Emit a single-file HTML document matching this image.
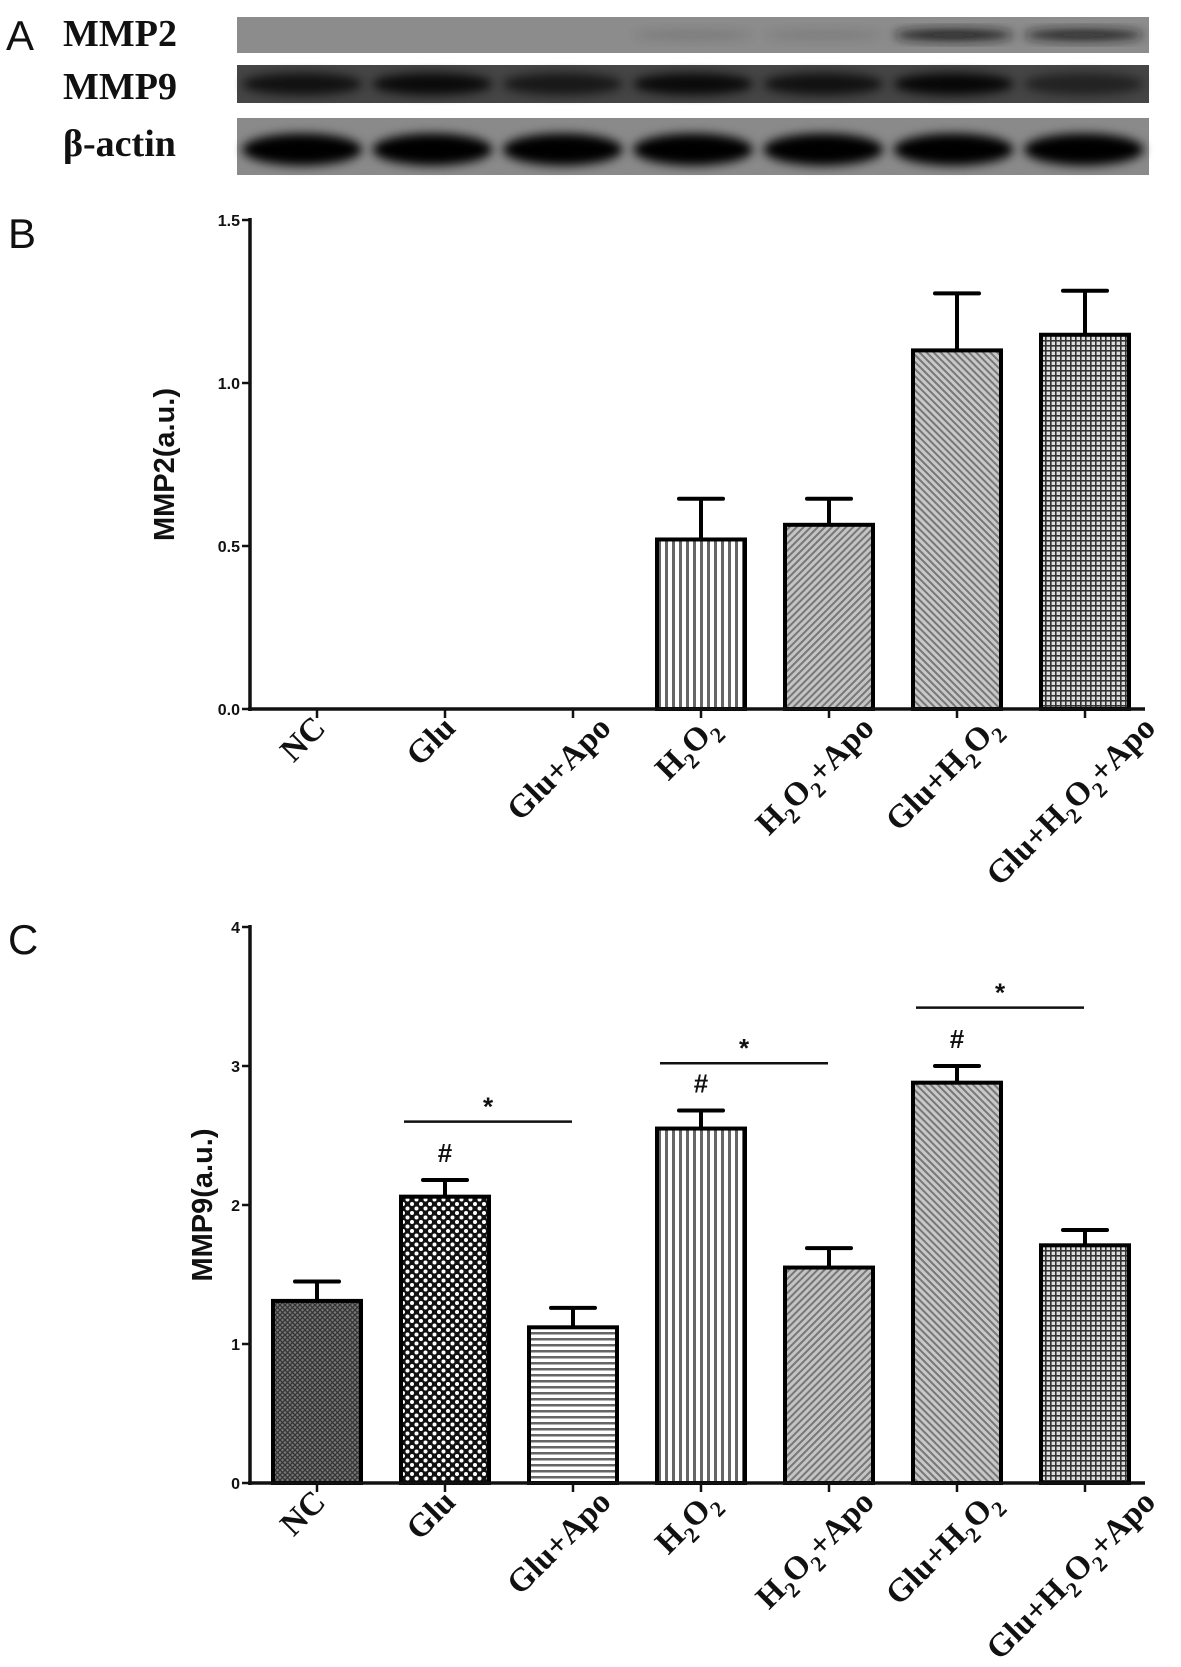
<!DOCTYPE html>
<html><head><meta charset="utf-8">
<style>
html,body{margin:0;padding:0;background:#fff;}
svg{display:block;}
.tick{font-family:"Liberation Sans",Arial,sans-serif;font-weight:bold;font-size:16px;fill:#111;}
.ytitle{font-family:"Liberation Sans",Arial,sans-serif;font-weight:bold;font-size:29px;fill:#111;}
.xl{font-family:"Liberation Serif","Times New Roman",serif;font-weight:bold;font-size:33px;fill:#111;}
.panel{font-family:"Liberation Sans",Arial,sans-serif;font-size:42px;fill:#111;}
.blotlab{font-family:"Liberation Serif","Times New Roman",serif;font-weight:bold;font-size:38px;fill:#111;}
</style></head>
<body>
<svg id="fig" width="1181" height="1667" viewBox="0 0 1181 1667" xmlns="http://www.w3.org/2000/svg">
<defs>
  <filter id="blur6" x="-20%" y="-50%" width="140%" height="200%"><feGaussianBlur stdDeviation="5"/></filter>
  <pattern id="p0" width="5" height="5" patternUnits="userSpaceOnUse"><rect width="5" height="5" fill="#777"/><path d="M0 0L5 5M5 0L0 5" stroke="#333" stroke-width="1.3"/></pattern>
  <pattern id="p1" width="9" height="9" patternUnits="userSpaceOnUse"><rect width="9" height="9" fill="#111"/><circle cx="2.5" cy="2.5" r="2" fill="#fff"/><circle cx="7" cy="7" r="2" fill="#fff"/></pattern>
  <pattern id="p2" width="6" height="6" patternUnits="userSpaceOnUse"><rect width="6" height="6" fill="#fff"/><rect y="0" width="6" height="2.5" fill="#666"/></pattern>
  <pattern id="p3" width="7" height="7" patternUnits="userSpaceOnUse"><rect width="7" height="7" fill="#fff"/><rect x="0" width="3" height="7" fill="#666"/></pattern>
  <pattern id="p4" width="5" height="5" patternUnits="userSpaceOnUse" patternTransform="rotate(45)"><rect width="5" height="5" fill="#c4c4c4"/><rect width="2" height="5" fill="#777"/></pattern>
  <pattern id="p5" width="5" height="5" patternUnits="userSpaceOnUse" patternTransform="rotate(-45)"><rect width="5" height="5" fill="#c8c8c8"/><rect width="2" height="5" fill="#777"/></pattern>
  <pattern id="p6" width="5" height="5" patternUnits="userSpaceOnUse"><rect width="5" height="5" fill="#ddd"/><rect width="5" height="1.6" fill="#333"/><rect width="1.6" height="5" fill="#333"/></pattern>
</defs>

<text class="panel" x="6" y="50">A</text>
<text class="blotlab" x="63" y="46">MMP2</text>
<text class="blotlab" x="63" y="99">MMP9</text>
<text class="blotlab" x="63" y="156">β-actin</text>
<g id="blots"></g>

<text class="panel" x="8" y="248">B</text>
<g id="chartB"></g>

<text class="panel" x="8" y="954">C</text>
<g id="chartC"></g>
</svg>

<script>
const categories = ["NC","Glu","Glu+Apo","H2O2","H2O2+Apo","Glu+H2O2","Glu+H2O2+Apo"];
const mmp2Values = [0, 0, 0, 0.52, 0.565, 1.10, 1.148];
const mmp2Errors = [0, 0, 0, 0.125, 0.08, 0.175, 0.135];
const mmp9Values = [1.31, 2.06, 1.12, 2.55, 1.55, 2.88, 1.71];
const mmp9Errors = [0.14, 0.12, 0.14, 0.13, 0.14, 0.12, 0.11];
const yTicksB = [0, 0.5, 1.0, 1.5];
const yTickLabelsB = ["0.0","0.5","1.0","1.5"];
const yTicksC = [0, 1, 2, 3, 4];
const yTickLabelsC = ["0","1","2","3","4"];
const sigFrom = [1, 3, 5];
const sigTo = [2, 4, 6];
const sigLevel = [2.6, 3.02, 3.42];
const hashIdx = [1, 3, 5];
const mmp2BandIntensity = [0, 0, 0, 0.12, 0.1, 0.9, 0.85];
const mmp9BandIntensity = [0.75, 0.85, 0.65, 0.85, 0.75, 0.9, 0.5];
const actinBandIntensity = [1, 1, 1, 1, 1, 1, 1];

const NS = "http://www.w3.org/2000/svg";
function mk(tag, attrs, parent){
  const e = document.createElementNS(NS, tag);
  for (const k in attrs) e.setAttribute(k, attrs[k]);
  if (parent) parent.appendChild(e);
  return e;
}
const fills = ["url(#p0)","url(#p1)","url(#p2)","url(#p3)","url(#p4)","url(#p5)","url(#p6)"];

(function(){
  const g = document.getElementById('blots');
  const x0 = 237, x1 = 1149, lane = (x1 - x0) / 7;
  const rows = [
    {y:17, h:36, bg:"#8c8c8c", band:"#151515", bh:12, vals:mmp2BandIntensity, name:"mmp2"},
    {y:65, h:38, bg:"#454545", band:"#050505", bh:22, vals:mmp9BandIntensity, name:"mmp9"},
    {y:118, h:57, bg:"#8a8a8a", band:"#000", bh:32, vals:actinBandIntensity, name:"actin"}
  ];
  rows.forEach(r => {
    const strip = mk('rect', {x:x0, y:r.y, width:x1-x0, height:r.h, fill:r.bg}, g);
    
    
    r.vals.forEach((v, i) => {
      if (v <= 0) return;
      const cx = x0 + lane * (i + 0.5);
      const b = mk('ellipse', {cx:cx, cy:r.y + r.h/2 + (r.name==="actin"?3:0), rx:lane*0.46, ry:r.bh/2, fill:r.band, opacity:v, filter:"url(#blur6)"}, g);
      
      
    });
  });
})();

function labelText(parent, name, x, y){
  const t = mk('text', {class:"xl"}, parent);
  const re = /(H|O)2/g;
  let last = 0, m;
  const s = name;
  while ((m = re.exec(s)) !== null) {
    const ts = mk('tspan', {}, t); ts.textContent = s.slice(last, m.index + 1);
    const sub = mk('tspan', {dy:"9", style:"font-size:22px"}, t); sub.textContent = "2";
    const back = mk('tspan', {dy:"-9"}, t); back.textContent = "\u200B";
    last = m.index + 2;
  }
  const rest = mk('tspan', {}, t); rest.textContent = s.slice(last);
  const L = t.getComputedTextLength ? t.getComputedTextLength() : name.length * 16;
  const d = L * 0.7071 / 2;
  const cx = x - 18, cy = y + 18 + d;
  t.setAttribute('text-anchor', 'middle');
  t.setAttribute('x', cx + 6);
  t.setAttribute('y', cy + 10);
  t.setAttribute('transform', `rotate(-45 ${cx} ${cy})`);
  
  
  return t;
}

function drawChart(gid, values, errors, ticks, tickLabels, yTop, yBot, vmax, title, titleX, sig){
  const g = document.getElementById(gid);
  const axX = 250, axEnd = 1145, first = 67, step = 128, bw = 88;
  const yS = v => yBot - (v / vmax) * (yBot - yTop);
  const xC = i => axX + first + step * i;

  values.forEach((v, i) => {
    if (v <= 0) return;
    const cx = xC(i);
    const top = yS(v), etop = yS(v + errors[i]);
    const el = mk('line', {x1:cx, x2:cx, y1:top, y2:etop, stroke:"#000", "stroke-width":4}, g);
    
    
    const cap = mk('line', {x1:cx-22, x2:cx+22, y1:etop, y2:etop, stroke:"#000", "stroke-width":4, "stroke-linecap":"round"}, g);
    
    
    const r = mk('rect', {x:cx-bw/2, y:top, width:bw, height:yBot-top, fill:fills[i], stroke:"#000", "stroke-width":4}, g);
    
    
  });

  const ya = mk('line', {x1:axX, x2:axX, y1:yTop-2, y2:yBot+2, stroke:"#111", "stroke-width":3.5}, g);
  
  
  const xa = mk('line', {x1:axX-2, x2:axEnd, y1:yBot, y2:yBot, stroke:"#111", "stroke-width":3.5}, g);
  
  

  ticks.forEach((t, k) => {
    const y = yS(t);
    const tl = mk('line', {x1:axX-8, x2:axX, y1:y, y2:y, stroke:"#111", "stroke-width":2.5}, g);
    
    
    const tx = mk('text', {class:"tick", x:axX-10, y:y+6, "text-anchor":"end"}, g);
    tx.textContent = tickLabels[k];
    
    
  });

  categories.forEach((c, i) => {
    const x = xC(i);
    const tk = mk('line', {x1:x, x2:x, y1:yBot, y2:yBot+9, stroke:"#111", "stroke-width":2.5}, g);
    
    
    labelText(g, c, x, yBot);
  });

  const yc = (yTop + yBot) / 2;
  const tt = mk('text', {class:"ytitle", x:titleX, y:yc, "text-anchor":"middle", transform:`rotate(-90 ${titleX} ${yc})`}, g);
  tt.textContent = title;
  
  

  if (sig) {
    sigFrom.forEach((a, k) => {
      const b = sigTo[k];
      const y = yS(sigLevel[k]);
      const x1 = xC(a) - 41, x2 = xC(b) - 1;
      const ln = mk('line', {x1:x1, x2:x2, y1:y, y2:y, stroke:"#111", "stroke-width":2.5}, g);
      
      
      const st = mk('text', {class:"tick", x:(x1+x2)/2, y:y-6, "text-anchor":"middle", style:"font-size:26px"}, g);
      st.textContent = "*";
      
      
    });
    hashIdx.forEach(i => {
      const y = yS(values[i] + errors[i]) - 18;
      const h = mk('text', {class:"tick", x:xC(i), y:y, "text-anchor":"middle", style:"font-size:26px"}, g);
      h.textContent = "#";
      
      
    });
  }
}

drawChart('chartB', mmp2Values, mmp2Errors, yTicksB, yTickLabelsB, 220, 709, 1.5, "MMP2(a.u.)", 174, false);
drawChart('chartC', mmp9Values, mmp9Errors, yTicksC, yTickLabelsC, 927, 1483, 4, "MMP9(a.u.)", 212, true);
</script>
</body></html>
